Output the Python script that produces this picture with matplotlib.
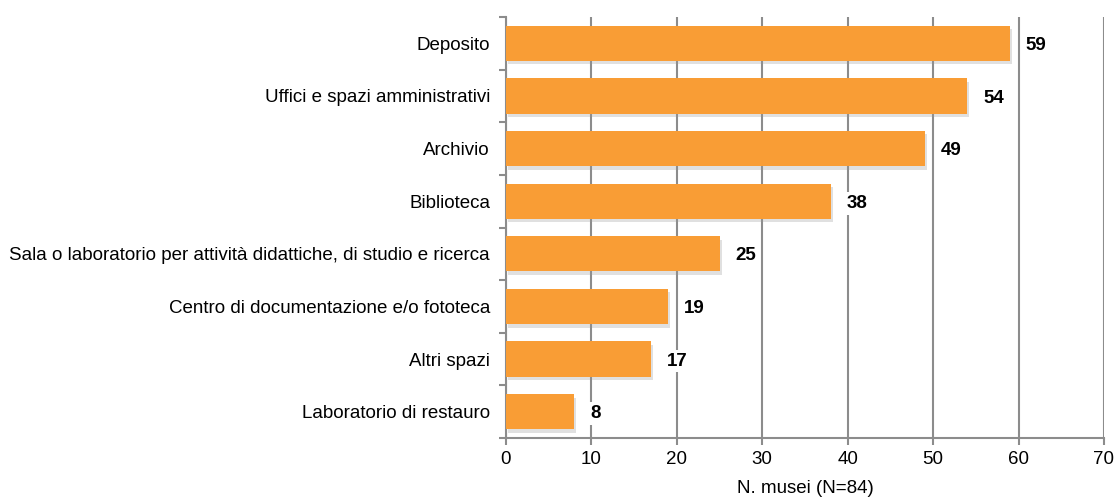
import matplotlib.pyplot as plt
import matplotlib.patheffects as pe
import numpy as np

plt.rcParams['font.family'] = ['Liberation Sans', 'DejaVu Sans']

# data
categories = ['Deposito', 'Uffici e spazi amministrativi', 'Archivio', 'Biblioteca',
              'Sala o laboratorio per attività didattiche, di studio e ricerca',
              'Centro di documentazione e/o fototeca', 'Altri spazi',
              'Laboratorio di restauro']
values = [59, 54, 49, 38, 25, 19, 17, 8]
xticks = [0, 10, 20, 30, 40, 50, 60, 70]
xlabel = 'N. musei (N=84)'

bar_color = '#F99D35'
grid_color = '#8c8c8c'
fs = 13.5

fig = plt.figure(figsize=(11.16, 4.97), dpi=100)
ax = fig.add_axes([0.4534, 0.1187, 0.9892 - 0.4534, 0.9658 - 0.1187])

y = np.arange(len(categories))
bars = ax.barh(y, values, height=0.67, color=bar_color, zorder=3)
for b in bars:
    b.set_path_effects([pe.SimplePatchShadow(offset=(1.5, -2.5), shadow_rgbFace='#999999', alpha=0.3),
                        pe.Normal()])

for yi, v in zip(y, values):
    ax.text(v + 1.85, yi + 0.04, str(v), va='center', ha='left', fontsize=fs,
            fontweight='bold', zorder=4,
            bbox=dict(facecolor='white', edgecolor='none', pad=2))

ax.set_xlim(0, 70)
ax.set_ylim(len(categories) - 0.5, -0.5)
ax.set_xticks(xticks)
ax.set_xticklabels([str(t) for t in xticks], fontsize=fs)
ax.set_yticks(y)
ax.set_yticklabels(categories, fontsize=fs)
ax.set_yticks(np.arange(len(categories) + 1) - 0.5, minor=True)
ax.tick_params(axis='y', which='major', length=0, pad=11.5)
ax.tick_params(axis='y', which='minor', length=5, color=grid_color, width=1.5)
ax.tick_params(axis='x', length=5, color=grid_color, width=1.5, pad=4)

ax.xaxis.grid(True, color=grid_color, linewidth=1.5, zorder=0)
ax.set_axisbelow(True)
for s in ['top', 'right']:
    ax.spines[s].set_visible(False)
for s in ['left', 'bottom']:
    ax.spines[s].set_color(grid_color)
    ax.spines[s].set_linewidth(1.5)

ax.set_xlabel(xlabel, fontsize=fs, labelpad=9)

fig.savefig('out.png', dpi=100)
